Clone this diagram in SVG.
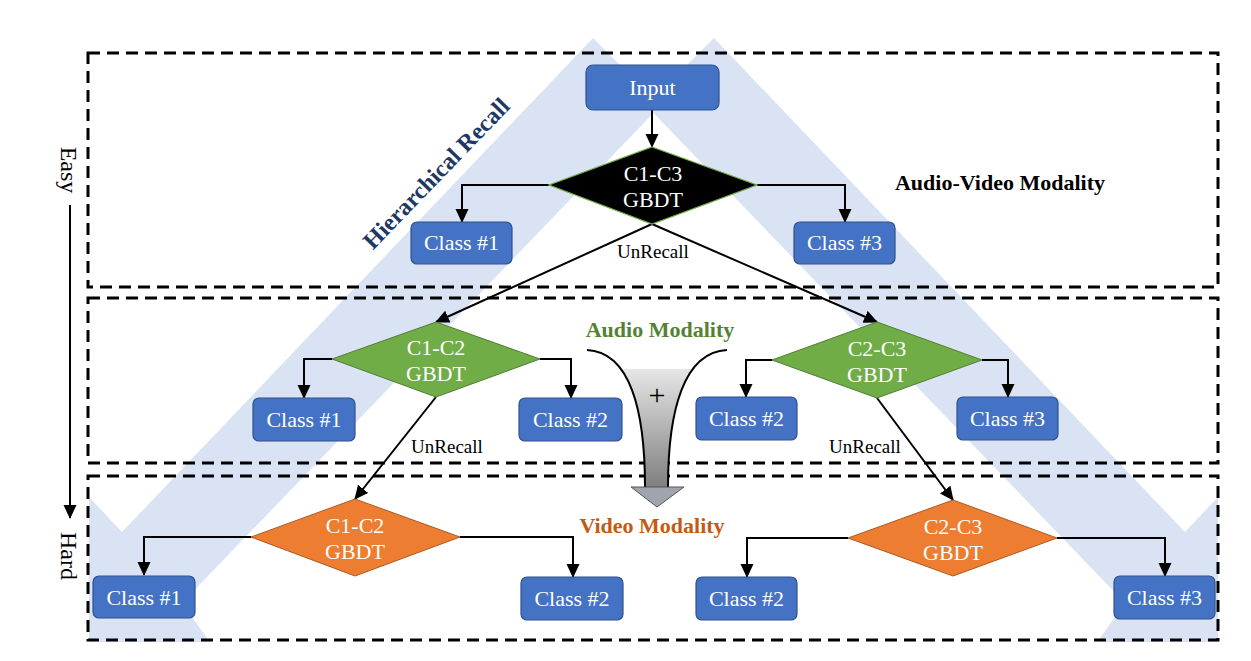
<svg xmlns="http://www.w3.org/2000/svg" width="1251" height="661" viewBox="0 0 1251 661">
<style>
.bg{fill:#DAE3F3}
.frame{fill:none;stroke:#000;stroke-width:3;stroke-dasharray:12 7}
.box{fill:#4472C4;stroke:#2F528F;stroke-width:1.2}
.bt{font-family:"Liberation Serif","Times New Roman",serif;font-size:22px;fill:#fff;text-anchor:middle}
.dg{fill:#70AD47;stroke:#507E32;stroke-width:1}
.do{fill:#ED7D31;stroke:#AE5A21;stroke-width:1}
.db{fill:#000;stroke:#70AD47;stroke-width:1.2}
.dt{font-family:"Liberation Serif","Times New Roman",serif;font-size:22px;fill:#fff;text-anchor:middle}
.lbl{font-family:"Liberation Serif","Times New Roman",serif;font-size:19px;fill:#000;text-anchor:middle}
.side{font-family:"Liberation Serif","Times New Roman",serif;font-size:24px;fill:#000;text-anchor:middle}
.title{font-family:"Liberation Serif","Times New Roman",serif;font-size:22px;font-weight:bold;text-anchor:middle}
.hr{font-family:"Liberation Serif","Times New Roman",serif;font-size:24px;font-weight:bold;text-anchor:middle;fill:#203864}
.conn{fill:none;stroke:#000;stroke-width:2}
</style>
<defs>
<marker id="ah" markerUnits="userSpaceOnUse" markerWidth="14" markerHeight="14" viewBox="0 0 14 14" refX="13" refY="7" orient="auto">
<path d="M0,0.5 L14,7 L0,13.5 Z" fill="#000"/>
</marker>
<clipPath id="bgclip"><rect x="89" y="0" width="1129" height="642"/></clipPath>
<clipPath id="funclip"><rect x="580" y="369" width="160" height="118"/></clipPath>
<linearGradient id="fg" x1="0" y1="0" x2="0" y2="1">
<stop offset="0" stop-color="#F7F7F7"/>
<stop offset="1" stop-color="#7F7F7F"/>
</linearGradient>
</defs>

<g id="background">
<polygon class="bg" clip-path="url(#bgclip)" points="593,38 653.5,98.5 714,38 1185,532 1265,447 1265,700 1056,700 1125,603 653.5,113 182,603 251,700 42,700 42,447 122,532"/>
</g>

<g id="frames">
<rect class="frame" x="88" y="53" width="1130" height="234"/>
<rect class="frame" x="88" y="298" width="1130" height="165"/>
<rect class="frame" x="88" y="476" width="1130" height="164"/>
</g>

<g id="labels">
<text class="title" x="1000" y="190" fill="#000">Audio-Video Modality</text>
<text class="title" x="660" y="337" fill="#548235">Audio Modality</text>
<text class="title" x="652" y="533" fill="#C55A11">Video Modality</text>
<text class="hr" x="0" y="0" transform="translate(442,179) rotate(-46)">Hierarchical Recall</text>
<text class="side" x="0" y="0" transform="translate(61,170) rotate(90)">Easy</text>
<text class="side" x="0" y="0" transform="translate(61,556) rotate(90)">Hard</text>
</g>

<g id="difficulty-arrow">
<line class="conn" x1="70" y1="205" x2="70" y2="518" marker-end="url(#ah)"/>
</g>

<g id="fusion">
<path d="M587,350 C630,352 645,410 645,487 L668,487 C668,410 683,352 727,350 Z" fill="url(#fg)" clip-path="url(#funclip)"/>
<path class="conn" d="M587,350 C630,352 645,410 645,487"/>
<path class="conn" d="M727,350 C684,352 668,410 668,487"/>
<polygon points="631,487 684,487 657,507" fill="#A0A4AC" stroke="#555" stroke-width="1"/>
<text x="657" y="405" font-family="Liberation Serif,serif" font-size="30" text-anchor="middle" fill="#000">+</text>
</g>

<g id="connectors">
<line class="conn" x1="652" y1="110" x2="652" y2="147" marker-end="url(#ah)"/>
<path class="conn" d="M549,185 H462 V222" marker-end="url(#ah)"/>
<path class="conn" d="M757,185 H845 V222" marker-end="url(#ah)"/>
<line class="conn" x1="652" y1="224" x2="436" y2="322" marker-end="url(#ah)"/>
<line class="conn" x1="652" y1="224" x2="877" y2="322" marker-end="url(#ah)"/>
<path class="conn" d="M332,359 H304 V398" marker-end="url(#ah)"/>
<path class="conn" d="M540,359 H571 V398" marker-end="url(#ah)"/>
<path class="conn" d="M772,360 H746 V397" marker-end="url(#ah)"/>
<path class="conn" d="M982,360 H1008 V397" marker-end="url(#ah)"/>
<line class="conn" x1="436" y1="397" x2="355" y2="499" marker-end="url(#ah)"/>
<line class="conn" x1="877" y1="398" x2="953" y2="500" marker-end="url(#ah)"/>
<path class="conn" d="M251,537 H144 V575" marker-end="url(#ah)"/>
<path class="conn" d="M460,537 H573 V577" marker-end="url(#ah)"/>
<path class="conn" d="M848,538 H747 V577" marker-end="url(#ah)"/>
<path class="conn" d="M1057,538 H1165 V576" marker-end="url(#ah)"/>
<text class="lbl" x="653" y="258">UnRecall</text>
<text class="lbl" x="447" y="453">UnRecall</text>
<text class="lbl" x="865" y="453">UnRecall</text>
</g>

<g id="input"><rect class="box" x="586" y="65" width="133" height="45" rx="7"/><text class="bt" x="652.5" y="95">Input</text></g>

<g id="d-c1c3"><polygon class="db" points="652,147 757,185 652,224 549,185"/><text class="dt" x="653" y="181">C1-C3</text><text class="dt" x="653" y="207">GBDT</text></g>

<g id="av-class1"><rect class="box" x="411" y="222" width="101" height="42" rx="6"/><text class="bt" x="461.5" y="250">Class #1</text></g>
<g id="av-class3"><rect class="box" x="794" y="222" width="101" height="42" rx="6"/><text class="bt" x="844.5" y="250">Class #3</text></g>

<g id="a-c1c2"><polygon class="dg" points="436,322 540,359 436,397 332,359"/><text class="dt" x="436" y="355">C1-C2</text><text class="dt" x="436" y="381">GBDT</text></g>
<g id="a-c2c3"><polygon class="dg" points="877,322 982,360 877,398 772,360"/><text class="dt" x="877" y="356">C2-C3</text><text class="dt" x="877" y="382">GBDT</text></g>

<g id="a-class1"><rect class="box" x="253" y="398" width="102" height="43" rx="6"/><text class="bt" x="304" y="427">Class #1</text></g>
<g id="a-class2l"><rect class="box" x="519" y="398" width="103" height="43" rx="6"/><text class="bt" x="570.5" y="427">Class #2</text></g>
<g id="a-class2r"><rect class="box" x="696" y="397" width="101" height="43" rx="6"/><text class="bt" x="746.5" y="426">Class #2</text></g>
<g id="a-class3"><rect class="box" x="957" y="397" width="101" height="43" rx="6"/><text class="bt" x="1007.5" y="426">Class #3</text></g>

<g id="v-c1c2"><polygon class="do" points="355,499 460,537 355,576 251,537"/><text class="dt" x="355" y="533">C1-C2</text><text class="dt" x="355" y="559">GBDT</text></g>
<g id="v-c2c3"><polygon class="do" points="953,500 1057,538 953,576 848,538"/><text class="dt" x="953" y="534">C2-C3</text><text class="dt" x="953" y="560">GBDT</text></g>

<g id="v-class1"><rect class="box" x="93" y="576" width="102" height="42" rx="6"/><text class="bt" x="144" y="605">Class #1</text></g>
<g id="v-class2l"><rect class="box" x="521" y="577" width="102" height="43" rx="6"/><text class="bt" x="572" y="606">Class #2</text></g>
<g id="v-class2r"><rect class="box" x="696" y="577" width="101" height="43" rx="6"/><text class="bt" x="746.5" y="606">Class #2</text></g>
<g id="v-class3"><rect class="box" x="1114" y="576" width="101" height="43" rx="6"/><text class="bt" x="1164.5" y="605">Class #3</text></g>
</svg>
